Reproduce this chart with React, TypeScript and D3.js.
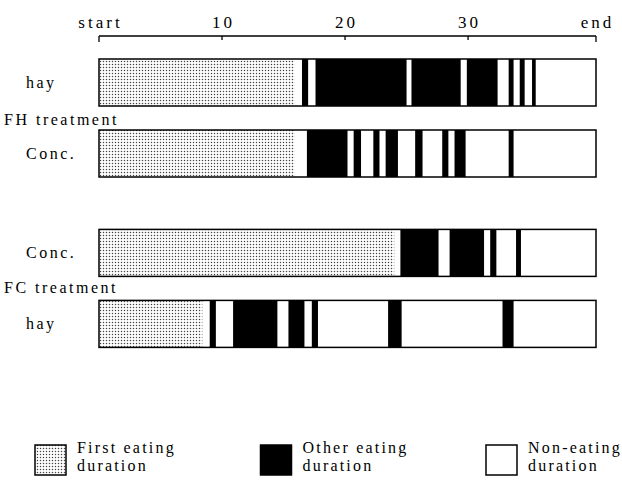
import * as d3 from "d3";

const WIDTH = 622;
const HEIGHT = 483;

// time axis (minutes); "start" and "end" are the feeding period limits
const AXIS_TICKS = [0, 10, 20, 30, 40.4];
const AXIS_LABELS = ["start", "10", "20", "30", "end"];

// rows, top to bottom
const ROW_LABELS = ["hay", "Conc.", "Conc.", "hay"];
const FIRST_EATING_END = [15.9, 15.9, 24.0, 8.4];
const OTHER_EATING: [number, number][][] = [
  [[16.5, 17.0], [17.6, 25.0], [25.4, 29.4], [29.9, 32.4], [33.3, 33.7], [34.2, 34.6], [35.2, 35.5]],
  [[16.9, 20.2], [20.7, 21.3], [22.3, 22.8], [23.3, 24.3], [25.7, 26.3], [27.9, 28.4], [28.9, 29.8], [33.3, 33.7]],
  [[24.5, 27.6], [28.5, 31.3], [31.8, 32.3], [33.9, 34.3]],
  [[9.0, 9.5], [10.9, 14.5], [15.4, 16.7], [17.3, 17.8], [23.5, 24.6], [32.8, 33.7]],
];

const TREATMENTS = ["FH treatment", "FC treatment"];
const LEGEND_LINE1 = ["First eating", "Other eating", "Non-eating"];
const LEGEND_LINE2 = ["duration", "duration", "duration"];

// layout
const ROW_SLOT = [0, 1, 2.4, 3.4];
const TREATMENT_SLOT = [0.93, 3.29];
const BAR_H = 47;
const AXIS_Y = 36;
const FONT = "'Liberation Serif', serif";

export default function App() {
  const x = d3.scaleLinear().domain([0, 40.4]).range([99, 596]);
  const y = d3.scaleLinear().domain([0, 1]).range([59, 130]);
  const legendX = d3.scalePoint<number>().domain([0, 1, 2]).range([35, 486]);

  return (
    <svg width={WIDTH} height={HEIGHT} style={{ display: "block", position: "absolute", left: 0, top: 0, background: "#fff" }}>
      <defs>
        <pattern id="stipple" patternUnits="userSpaceOnUse" width={3} height={3}>
          <rect width={3} height={3} fill="#fff" />
          <circle cx={1.5} cy={1.5} r={0.75} fill="#444" />
        </pattern>
      </defs>

      {/* top axis */}
      <g fontFamily={FONT} fontSize={17} letterSpacing={3}>
        <line x1={x(0)} x2={x(40.4)} y1={AXIS_Y} y2={AXIS_Y} stroke="#000" strokeWidth={1.3} />
        {AXIS_TICKS.map((t, i) => {
          const edge = i === 0 || i === AXIS_TICKS.length - 1;
          return (
            <g key={i}>
              <line x1={x(t)} x2={x(t)} y1={AXIS_Y} y2={AXIS_Y + (edge ? 6 : 4)} stroke="#000" strokeWidth={1.3} />
              <text x={x(t) + 1.5} y={AXIS_Y - 8} textAnchor="middle" fill="#000">
                {AXIS_LABELS[i]}
              </text>
            </g>
          );
        })}
      </g>

      {/* bars */}
      {ROW_LABELS.map((label, r) => {
        const top = y(ROW_SLOT[r]);
        return (
          <g key={r}>
            <rect x={x(0)} y={top} width={x(40.4) - x(0)} height={BAR_H} fill="#fff" />
            <rect x={x(0)} y={top} width={x(FIRST_EATING_END[r]) - x(0)} height={BAR_H} fill="url(#stipple)" />
            {OTHER_EATING[r].map(([s, e], j) => (
              <rect key={j} x={x(s)} y={top} width={x(e) - x(s)} height={BAR_H} fill="#000" />
            ))}
            <rect x={x(0)} y={top} width={x(40.4) - x(0)} height={BAR_H} fill="none" stroke="#000" strokeWidth={1.5} />
            <text x={26} y={top + BAR_H / 2 + 5} fontFamily={FONT} fontSize={16} letterSpacing={2.5} fill="#000">
              {label}
            </text>
          </g>
        );
      })}

      {TREATMENTS.map((t, i) => (
        <text key={t} x={4} y={y(TREATMENT_SLOT[i])} fontFamily={FONT} fontSize={16} letterSpacing={2.5} fill="#000">
          {t}
        </text>
      ))}

      {/* legend */}
      {LEGEND_LINE1.map((l, i) => {
        const lx = legendX(i)!;
        const fill = i === 0 ? "url(#stipple)" : i === 1 ? "#000" : "#fff";
        return (
          <g key={i} fontFamily={FONT} fontSize={16} letterSpacing={2.2} fill="#000">
            <rect x={lx} y={445} width={31} height={30} fill={fill} stroke="#000" strokeWidth={1.5} />
            <text x={lx + 42} y={453}>{l}</text>
            <text x={lx + 42} y={471}>{LEGEND_LINE2[i]}</text>
          </g>
        );
      })}
    </svg>
  );
}
